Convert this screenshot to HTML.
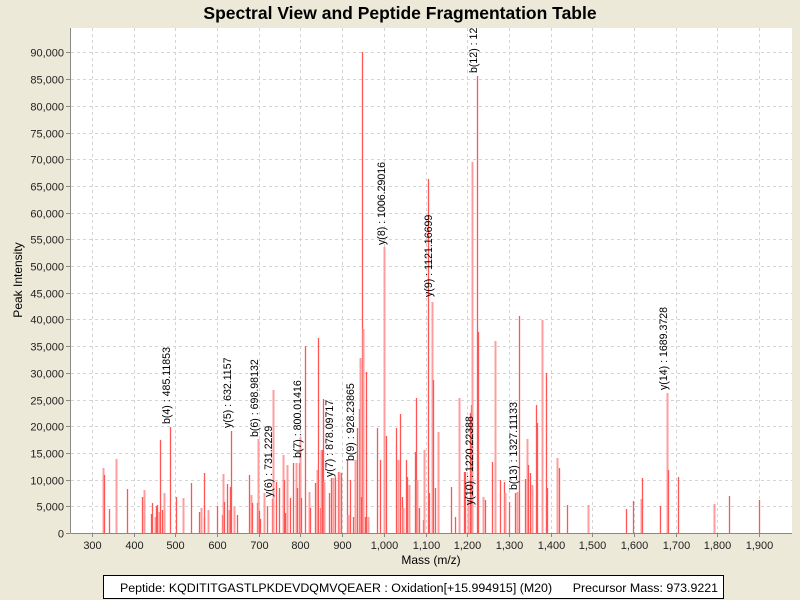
<!DOCTYPE html>
<html><head><meta charset="utf-8"><style>
html,body{margin:0;padding:0;background:#ece9d8;}
svg{display:block;font-family:"Liberation Sans",sans-serif;}
</style></head><body>
<svg id="s" width="800" height="600" xmlns="http://www.w3.org/2000/svg">
<rect width="800" height="600" fill="#ece9d8"/>
<text x="400" y="19" text-anchor="middle" font-size="17.5" font-weight="bold">Spectral View and Peptide Fragmentation Table</text>
<defs><clipPath id="c"><rect x="71" y="28" width="721" height="505"/></clipPath></defs>
<rect x="71" y="28" width="721" height="505" fill="#fff"/>
<g id="grid"></g>
<g id="bars" clip-path="url(#c)"></g>
<g id="labs" clip-path="url(#c)" font-size="10.6" fill="#000"></g>
<line x1="70.5" y1="28" x2="70.5" y2="533.5" stroke="#888"/>
<line x1="70.5" y1="533.5" x2="792" y2="533.5" stroke="#888"/>
<g id="ticks" font-size="11" fill="#222"></g>
<text x="431" y="564" text-anchor="middle" font-size="12">Mass (m/z)</text>
<text transform="translate(22,280) rotate(-90)" text-anchor="middle" font-size="12">Peak Intensity</text>
<rect x="103.5" y="575.5" width="620" height="23" fill="#fff" stroke="#000"/>
<text x="419" y="592" text-anchor="middle" font-size="12.4" xml:space="preserve">Peptide: KQDITITGASTLPKDEVDQMVQEAER : Oxidation[+15.994915] (M20)      Precursor Mass: 973.9221</text>
</svg>
<script>
var NS="http://www.w3.org/2000/svg";
function el(p,t,a,txt){var e=document.createElementNS(NS,t);for(var k in a)e.setAttribute(k,a[k]);if(txt)e.textContent=txt;document.getElementById(p).appendChild(e);return e;}
function X(m){return 92+(m-300)*0.41688;}
function Y(v){return 533-v*0.005339;}
for(var m=300;m<=1900;m+=100){var x=Math.round(X(m))+0.5;
 el("grid","line",{x1:x,y1:28,x2:x,y2:533,stroke:"#d4d4d4","stroke-dasharray":"3,3"});
 el("ticks","line",{x1:x,y1:533,x2:x,y2:537,stroke:"#888"});
 el("ticks","text",{x:x,y:549,"text-anchor":"middle"},m.toLocaleString("en-US"));}
for(var v=0;v<=90000;v+=5000){var y=Math.round(Y(v))+0.5;
 if(v>0)el("grid","line",{x1:71,y1:y,x2:792,y2:y,stroke:"#d4d4d4","stroke-dasharray":"3,3"});
 el("ticks","line",{x1:66,y1:y,x2:70,y2:y,stroke:"#888"});
 el("ticks","text",{x:64,y:y+4,"text-anchor":"end"},v.toLocaleString("en-US"));}
var P=[[103,468],[104,475],[109,509],[116,459],[127,489],[142,497],[144,490],[151,514],[152,503],[155,517],[156,506],[157,505],[159,512],[160,440],[162,510],[164,493],[170,427],[176,497],[183,498],[191,483],[199,512],[201,508],[204,517],[204,473],[208,510],[217,506],[222,515],[223,474],[224,502],[227,484],[229,510],[230,487],[231,431],[234,507],[237,515],[249,475],[251,495],[252,503],[257,503],[258,439],[259,511],[260,519],[264,493],[267,506],[272,499],[273,390],[276,482],[279,488],[283,455],[284,480],[285,513],[287,465],[290,498],[293,463],[296,463],[297,488],[299,463],[300,437],[301,498],[305,346],[309,492],[310,508],[315,483],[317,470],[318,338],[320,508],[321,450],[322,450],[323,399],[324,482],[329,493],[331,478],[333,478],[335,477],[338,472],[339,472],[341,473],[347,460],[348,515],[350,480],[353,517],[355,460],[357,428],[359,409],[360,358],[361,497],[362,52],[363,329],[365,517],[366,372],[368,517],[377,428],[380,460],[384,247],[386,436],[396,428],[398,460],[400,414],[402,497],[403,508],[406,460],[407,477],[409,485],[415,452],[416,398],[417,480],[419,508],[423,520],[424,450],[428,179],[429,493],[432,302],[433,380],[435,488],[438,432],[451,487],[455,517],[459,398],[464,472],[465,472],[468,500],[470,413],[471,405],[472,162],[477,76],[478,332],[483,497],[485,500],[492,462],[495,341],[500,480],[504,482],[505,493],[509,502],[515,493],[517,492],[519,316],[525,479],[527,439],[528,465],[530,473],[532,485],[536,405],[537,423],[542,320],[546,373],[547,488],[557,458],[559,468],[567,505],[588,505],[626,509],[633,501],[641,499],[642,478],[660,506],[667,393],[668,470],[678,477],[714,504],[729,496],[759,500]];
P.forEach(function(p,i){var light=(i*7)%3==0;
 el("bars","line",{x1:p[0]+0.5,y1:533,x2:p[0]+0.5,y2:p[1],stroke:light?"#ff9c9c":"#ff5555","stroke-width":light?2:1.3});});
var L=[[170,424,"b(4) : 485.11853"],[231,428,"y(5) : 632.1157"],[258,437,"b(6) : 698.98132"],[272,497,"y(6) : 731.2229"],[301,458,"b(7) : 800.01416"],[333,477,"y(7) : 878.09717"],[354,461,"b(9) : 928.23865"],[385,245,"y(8) : 1006.29016"],[432,297,"y(9) : 1121.16699"],[473,505,"y(10) : 1220.22388"],[477,73,"b(12) : 1229.12345"],[517,490,"b(13) : 1327.11133"],[667,390,"y(14) : 1689.3728"]];
L.forEach(function(l){el("labs","text",{transform:"translate("+l[0]+","+l[1]+") rotate(-90)"},l[2]);});
</script>
</body></html>
